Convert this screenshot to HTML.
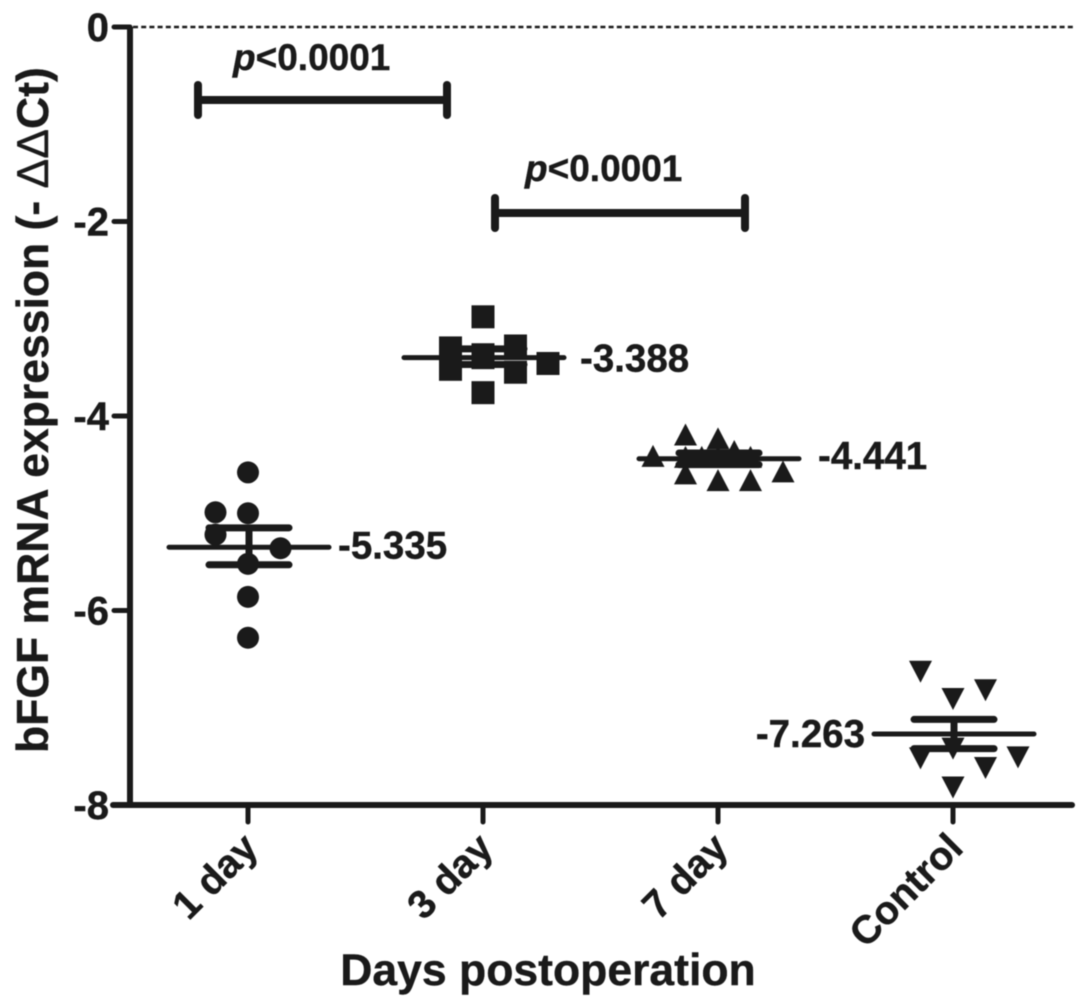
<!DOCTYPE html>
<html lang="en">
<head>
<meta charset="utf-8">
<title>bFGF mRNA expression</title>
<style>
html,body{margin:0;padding:0;background:#fff;width:1087px;height:1007px;overflow:hidden}
svg{display:block;filter:blur(0.4px)}
text{font-family:"Liberation Sans",sans-serif;font-weight:bold;fill:#1a1a1a;stroke:#1a1a1a;stroke-width:0.4px}
</style>
</head>
<body>
<svg id="chart" width="1087" height="1007" viewBox="0 0 1087 1007" xmlns="http://www.w3.org/2000/svg">
  <text transform="translate(48,753) rotate(-90)" font-size="44.5">bFGF mRNA expression (- <tspan style="font-weight:normal">ΔΔ</tspan>Ct)</text>
  <text x="548" y="985" text-anchor="middle" font-size="44.5">Days postoperation</text>
</svg>
<script>
const categories = ["1 day", "3 day", "7 day", "Control"];
const yTicks = [0, -2, -4, -6, -8];
const yTickLabels = ["0", "-2", "-4", "-6", "-8"];

const oneDayValues = [-4.58, -4.99, -5.00, -5.22, -5.36, -5.52, -5.86, -6.28];
const oneDaySlots = [0, -1, 0, -1, 1, 0, 0, 0];
const threeDayValues = [-2.98, -3.28, -3.30, -3.37, -3.40, -3.46, -3.52, -3.55, -3.76];
const threeDaySlots = [0, 1, -1, 0, 0, 2, -1, 1, 0];
const sevenDayValues = [-4.19, -4.23, -4.36, -4.41, -4.42, -4.42, -4.42, -4.42, -4.42, -4.57, -4.59, -4.66, -4.66];
const sevenDaySlots = [-1, 0, 0.5, -2, -1, -0.5, 0, 0.5, 1, 2, -1, 0, 1];
const controlValues = [-6.63, -6.82, -6.91, -7.42, -7.51, -7.52, -7.62, -7.82];
const controlSlots = [-1, 1, 0, 0, 2, -1, 1, 0];

const meanValues = [-5.35, -3.40, -4.44, -7.27];
const upperSem = [-5.15, -3.31, -4.38, -7.12];
const lowerSem = [-5.53, -3.47, -4.50, -7.42];
const meanLabels = ["-5.335", "-3.388", "-4.441", "-7.263"];

const svg = document.getElementById('chart');
const NS = 'http://www.w3.org/2000/svg';
const INK = '#1a1a1a';
const xScale = i => 248 + i * 235;
const yScale = v => 27 - v * 97.25;
const SLOT = 32.5;
const labelGap = [8, 15, 18, 8];
const labelDrop = [11, 14, 10, 13];

function make(tag, attrs) {
  const el = document.createElementNS(NS, tag);
  for (const k in attrs) el.setAttribute(k, attrs[k]);
  svg.appendChild(el);
  return el;
}
function stroke(x1, y1, x2, y2, w, cap) {
  return make('line', {x1, y1, x2, y2, stroke: INK, 'stroke-width': w, 'stroke-linecap': cap || 'butt'});
}

/* zero reference line */
const zeroLine = stroke(133, yScale(0), 1073, yScale(0), 2.5);
zeroLine.setAttribute('stroke-dasharray', '5 3.2');



/* axes */
const yAxis = stroke(130, yScale(0), 130, yScale(-8), 6);


const xAxis = stroke(113, yScale(-8), 1072, yScale(-8), 6, 'round');



yTicks.forEach((v, i) => {
  const t = stroke(114, yScale(v), 130, yScale(v), 5, 'round');
  
  
  const l = make('text', {x: 109, y: yScale(v) + 14, 'text-anchor': 'end', 'font-size': 40});
  l.textContent = yTickLabels[i];
  
  
});

categories.forEach((c, i) => {
  const x = xScale(i);
  const t = stroke(x, yScale(-8), x, 822, 5, 'round');
  
  
  const ax = x + 12, ay = 850;
  const l = make('text', {x: ax, y: ay, 'text-anchor': 'end', 'font-size': 39.5, transform: `rotate(-45 ${ax} ${ay})`});
  l.textContent = c;
  
  
});

/* markers */
function circle(cx, cy) {
  return make('circle', {cx, cy, r: 11, fill: INK});
}
function square(cx, cy) {
  return make('rect', {x: cx - 11.5, y: cy - 11.5, width: 23, height: 23, fill: INK});
}
function triUp(cx, cy) {
  return make('polygon', {points: `${cx},${cy - 11} ${cx + 11.5},${cy + 11} ${cx - 11.5},${cy + 11}`, fill: INK});
}
function triDown(cx, cy) {
  return make('polygon', {points: `${cx - 11.5},${cy - 11} ${cx + 11.5},${cy - 11} ${cx},${cy + 11}`, fill: INK});
}

function drawPoints(catIndex, values, slots, shape) {
  values.forEach((v, i) => {
    const m = shape(xScale(catIndex) + slots[i] * SLOT, yScale(v));
    
    
  });
}
drawPoints(0, oneDayValues, oneDaySlots, circle);
drawPoints(1, threeDayValues, threeDaySlots, square);
drawPoints(2, sevenDayValues, sevenDaySlots, triUp);
drawPoints(3, controlValues, controlSlots, triDown);

/* mean and SEM bars with labels */
categories.forEach((c, i) => {
  const x = xScale(i) + 1;
  const mean = stroke(x - 80, yScale(meanValues[i]), x + 80, yScale(meanValues[i]), 5, 'round');
  
  
  const up = stroke(x - 40, yScale(upperSem[i]), x + 40, yScale(upperSem[i]), 7, 'round');
  
  
  const low = stroke(x - 40, yScale(lowerSem[i]), x + 40, yScale(lowerSem[i]), 7, 'round');
  
  
  const stem = stroke(x, yScale(upperSem[i]), x, yScale(lowerSem[i]), 7);
  
  
  const left = i === 3;
  const l = make('text', {
    x: left ? x - 81 - labelGap[i] : x + 81 + labelGap[i],
    y: yScale(meanValues[i]) + labelDrop[i],
    'text-anchor': left ? 'end' : 'start',
    'font-size': 38.5
  });
  l.textContent = meanLabels[i];
  
  
});

/* significance brackets */
function bracket(x1, x2, y) {
  const g = make('g', {});
  [[x1, y, x2, y], [x1, y - 15, x1, y + 15], [x2, y - 15, x2, y + 15]].forEach(s => {
    const ln = stroke(s[0], s[1], s[2], s[3], 8, 'round');
    g.appendChild(ln);
  });
  return g;
}
const bracketA = bracket(198, 447, 100);


const bracketB = bracket(495, 745, 213);



function pLabel(x, y) {
  const l = make('text', {x, y, 'font-size': 37});
  const p = document.createElementNS(NS, 'tspan');
  p.setAttribute('font-style', 'italic');
  p.textContent = 'p';
  l.appendChild(p);
  l.appendChild(document.createTextNode('<0.0001'));
  return l;
}
const pA = pLabel(233, 70);


const pB = pLabel(525, 181);


</script>
</body>
</html>
